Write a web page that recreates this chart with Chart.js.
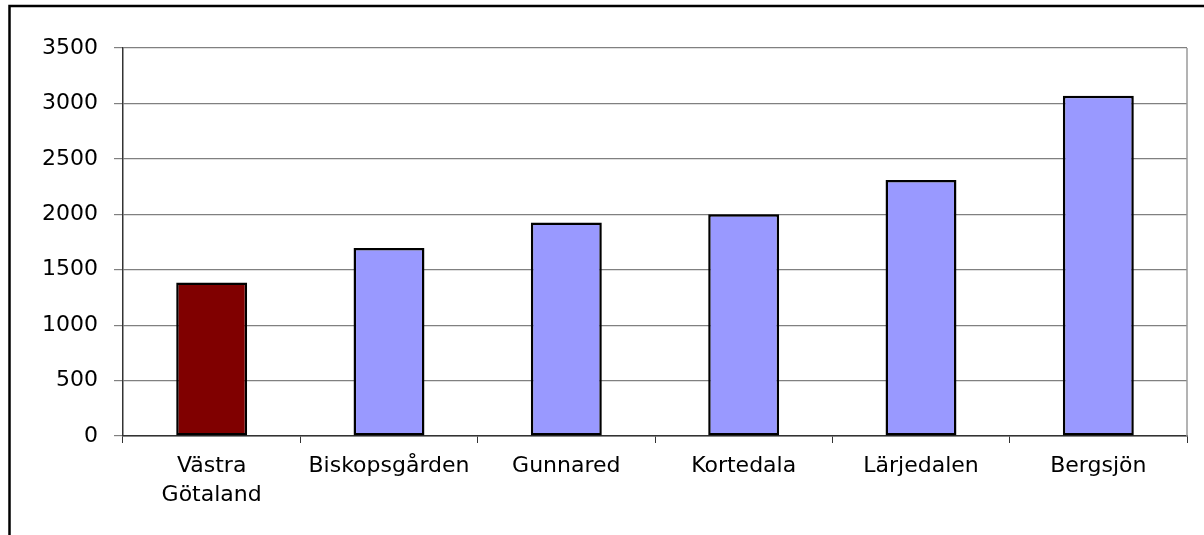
<!DOCTYPE html>
<html>
<head>
<meta charset="utf-8">
<script src="https://cdn.jsdelivr.net/npm/chart.js@4/dist/chart.umd.min.js"></script>
<style>
  html, body { margin: 0; padding: 0; background: #fff; }
  #wrap { width: 1204px; height: 535px; position: relative; }
</style>
</head>
<body>
<div id="wrap"><canvas id="chart"></canvas></div>
<script>
// data
const categories = [['Västra', 'Götaland'], 'Biskopsgården', 'Gunnared', 'Kortedala', 'Lärjedalen', 'Bergsjön'];
const values = [1385, 1695, 1925, 2000, 2310, 3070];
const yMin = 0;
const yMax = 3500;
const yStep = 500;

const FONT = { family: '"DejaVu Sans", sans-serif', size: 22 };

// outer frame (left + top) and the grey right edge of the plot area
const framePlugin = {
  id: 'frame',
  afterDraw(chart) {
    const { ctx, chartArea: a } = chart;
    ctx.save();
    ctx.strokeStyle = '#9a9a9a';
    ctx.lineWidth = 1.5;
    ctx.beginPath();
    ctx.moveTo(a.right, a.top);
    ctx.lineTo(a.right, a.bottom);
    ctx.stroke();

    ctx.strokeStyle = '#000';
    ctx.lineWidth = 2.5;
    ctx.beginPath();
    ctx.moveTo(9.5, chart.height + 5);
    ctx.lineTo(9.5, 6);
    ctx.lineTo(chart.width + 5, 6);
    ctx.stroke();
    ctx.restore();
  }
};

new Chart(document.getElementById('chart'), {
  type: 'bar',
  data: {
    labels: categories,
    datasets: [{
      data: values,
      backgroundColor: c => c.dataIndex === 0 ? '#800000' : '#9999ff',
      borderColor: '#000',
      borderWidth: 2.5,
      borderSkipped: false,
      barPercentage: 0.4,
      categoryPercentage: 1
    }]
  },
  options: {
    responsive: true,
    maintainAspectRatio: false,
    animation: false,
    layout: { padding: { top: 48, right: 17, left: 0, bottom: 0 } },
    plugins: {
      legend: { display: false },
      tooltip: { enabled: false }
    },
    scales: {
      x: {
        grid: {
          offset: true,
          drawOnChartArea: false,
          drawTicks: true,
          tickLength: 7,
          tickColor: '#333'
        },
        border: { color: '#333', width: 1.5 },
        ticks: {
          color: '#000',
          font: { ...FONT, lineHeight: 1.32 },
          padding: 9,
          maxRotation: 0,
          autoSkip: false
        },
        afterFit: s => { s.height = 99; }
      },
      y: {
        min: yMin,
        max: yMax,
        grid: {
          color: '#808080',
          lineWidth: 1.2,
          tickLength: 9,
          tickColor: '#808080'
        },
        border: { color: '#333', width: 1.5 },
        ticks: {
          stepSize: yStep,
          color: '#000',
          font: FONT,
          padding: 16,
          callback: v => String(v)
        },
        afterFit: s => { s.width = 123; }
      }
    }
  },
  plugins: [framePlugin]
});
</script>
</body>
</html>
